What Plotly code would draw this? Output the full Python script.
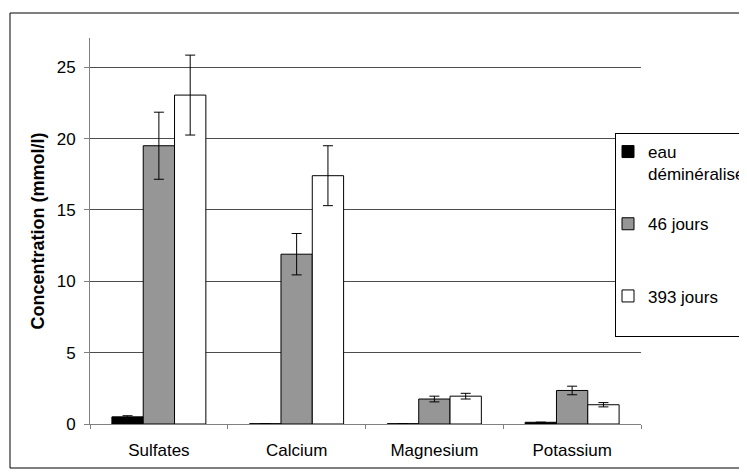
import plotly.graph_objects as go

categories = ["Sulfates", "Calcium", "Magnesium", "Potassium"]
series_names = ["eau<br>déminéralisée", "46 jours<br> ", "393 jours<br> "]
eau = [0.5, 0.02, 0.02, 0.12]
eau_err = [0.08, 0.0, 0.0, 0.0]
j46 = [19.5, 11.9, 1.75, 2.35]
j46_err = [2.35, 1.45, 0.2, 0.3]
j393 = [23.05, 17.4, 1.95, 1.35]
j393_err = [2.8, 2.1, 0.2, 0.15]
colors = ["#000000", "#969696", "#ffffff"]
yticks = [0, 5, 10, 15, 20, 25]

FONT = "Liberation Sans, Arial, sans-serif"

fig = go.Figure()
for name, vals, errs, col in zip(series_names, [eau, j46, j393], [eau_err, j46_err, j393_err], colors):
    fig.add_trace(go.Bar(
        x=categories, y=vals, name=name,
        marker=dict(color=col, line=dict(color="#000000", width=1)),
        error_y=dict(type="data", array=errs, visible=True, color="#000000", thickness=1, width=5),
        legendgroup=name,
    ))

OFF = 8  # page body margin
W, H = 739, 467
L, T = 90 - OFF, 38 - OFF
R = W - (641 - OFF)
B = H - (424 - OFF)
pw, ph = W - L - R, H - T - B

def px_x(p):
    return (p - OFF - L) / pw

def px_y(p):
    return (H - B - (p - OFF)) / ph

fig.update_layout(
    width=W, height=H,
    margin=dict(l=L, r=R, t=T, b=B, autoexpand=False),
    paper_bgcolor="white", plot_bgcolor="white",
    font=dict(family=FONT, size=17, color="#000000"),
    barmode="group", bargap=0.318, bargroupgap=0,
    showlegend=True,
    legend=dict(
        x=px_x(615), y=px_y(133), xanchor="left", yanchor="top",
        bgcolor="white", bordercolor="#000000", borderwidth=1,
        font=dict(family=FONT, size=17, color="#000000"),
        valign="top", tracegroupgap=25, indentation=-8,
    ),
    xaxis=dict(
        showgrid=False, showline=True, linecolor="#808080", linewidth=1,
        ticks="outside", tickson="boundaries", ticklen=4, tickcolor="#808080",
        ticklabelstandoff=11,
        tickfont=dict(family=FONT, size=17),
    ),
    yaxis=dict(
        range=[0, 27.05], tickvals=yticks,
        showgrid=True, gridcolor="#4d4d4d", gridwidth=1,
        showline=True, linecolor="#808080", linewidth=1,
        ticks="outside", ticklen=5, tickcolor="#808080",
        ticklabelstandoff=5,
        zeroline=False,
        tickfont=dict(family=FONT, size=17),
        title=dict(text="<b>Concentration (mmol/l)</b>", font=dict(family=FONT, size=18), standoff=7),
    ),
    shapes=[dict(
        type="rect", xref="paper", yref="paper",
        x0=px_x(10), x1=px_x(770), y0=px_y(468), y1=px_y(13),
        line=dict(color="#000000", width=1), fillcolor="rgba(0,0,0,0)", layer="below",
    )],
)

fig.write_html("out.html")
